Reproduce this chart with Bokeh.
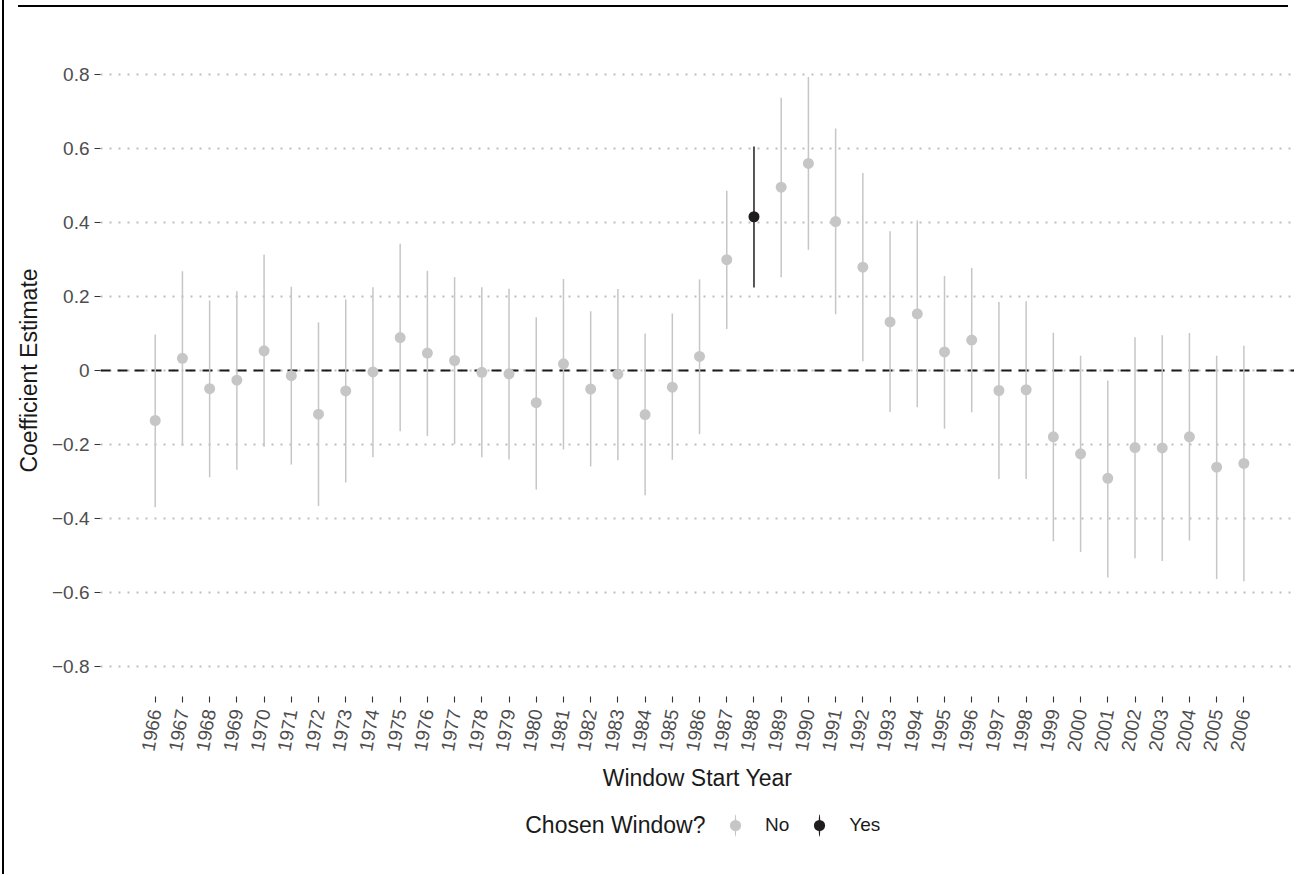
import math
from bokeh.plotting import figure
from bokeh.layouts import column
from bokeh.models import (Range1d, FixedTicker, CustomJSTickFormatter, Span, Legend,
                          LegendItem, Label, ColumnDataSource, InlineStyleSheet)
from bokeh.embed import file_html
from bokeh.resources import INLINE

# ---------------- data ----------------
years = [1966, 1967, 1968, 1969, 1970, 1971, 1972, 1973, 1974, 1975,
         1976, 1977, 1978, 1979, 1980, 1981, 1982, 1983, 1984, 1985,
         1986, 1987, 1988, 1989, 1990, 1991, 1992, 1993, 1994, 1995,
         1996, 1997, 1998, 1999, 2000, 2001, 2002, 2003, 2004, 2005, 2006]
estimate = [-0.135, 0.033, -0.049, -0.026, 0.053, -0.014, -0.118, -0.055, -0.004, 0.089,
            0.047, 0.027, -0.005, -0.009, -0.087, 0.018, -0.050, -0.010, -0.119, -0.045,
            0.038, 0.299, 0.415, 0.495, 0.559, 0.402, 0.279, 0.131, 0.153, 0.050,
            0.082, -0.054, -0.052, -0.179, -0.225, -0.291, -0.208, -0.209, -0.179, -0.261, -0.251]
lower = [-0.369, -0.203, -0.288, -0.268, -0.206, -0.254, -0.366, -0.302, -0.234, -0.164,
         -0.177, -0.199, -0.234, -0.240, -0.321, -0.213, -0.259, -0.242, -0.337, -0.241,
         -0.172, 0.112, 0.224, 0.252, 0.326, 0.152, 0.025, -0.112, -0.099, -0.157,
         -0.113, -0.293, -0.293, -0.461, -0.490, -0.559, -0.507, -0.514, -0.459, -0.563, -0.569]
upper = [0.097, 0.268, 0.189, 0.214, 0.313, 0.226, 0.130, 0.192, 0.225, 0.342,
         0.269, 0.252, 0.225, 0.221, 0.144, 0.247, 0.160, 0.220, 0.100, 0.154,
         0.246, 0.485, 0.605, 0.736, 0.792, 0.653, 0.533, 0.376, 0.405, 0.255,
         0.277, 0.185, 0.187, 0.102, 0.040, -0.027, 0.090, 0.095, 0.101, 0.040, 0.067]
chosen = ["No", "No", "No", "No", "No", "No", "No", "No", "No", "No",
          "No", "No", "No", "No", "No", "No", "No", "No", "No", "No",
          "No", "No", "Yes", "No", "No", "No", "No", "No", "No", "No",
          "No", "No", "No", "No", "No", "No", "No", "No", "No", "No", "No"]
year_labels = [str(y) for y in years]
y_ticks = [-0.8, -0.6, -0.4, -0.2, 0, 0.2, 0.4, 0.6, 0.8]
categories = ["No", "Yes"]
legend_title = "Chosen Window?"
x_title = "Window Start Year"
y_title = "Coefficient Estimate"

# ---------------- styling ----------------
FONT = "Liberation Sans"
GREY = "#C6C6C6"
DARK = "#211D1E"
colors = {"No": GREY, "Yes": DARK}

W = 1294
H_MAIN = 800
H_LEG = 74

sources = {}
for cat in categories:
    idx = [i for i, c in enumerate(chosen) if c == cat]
    sources[cat] = ColumnDataSource(dict(
        year=[years[i] for i in idx],
        est=[estimate[i] for i in idx],
        lo=[lower[i] for i in idx],
        hi=[upper[i] for i in idx],
    ))

p = figure(width=W, height=H_MAIN, output_backend="svg", toolbar_location=None,
           title=None, x_range=Range1d(1963.99, 2007.86), y_range=Range1d(-0.88, 0.88),
           min_border_left=100, min_border_right=0, min_border_top=44,
           min_border_bottom=H_MAIN - 696)
p.outline_line_color = None
p.background_fill_color = "white"
p.border_fill_color = "white"

p.xgrid.visible = False
p.ygrid.grid_line_color = "#BDBDBD"
p.ygrid.grid_line_width = 1.8
p.ygrid.grid_line_dash = "2 7"

p.add_layout(Span(location=0, dimension="width", line_color="#1A1A1A", line_width=2,
                  line_dash="10 7", level="underlay"))

for cat in categories:
    p.segment(x0="year", y0="lo", x1="year", y1="hi", line_color=colors[cat],
              line_width=1.5, source=sources[cat])
    p.scatter(x="year", y="est", size=11, fill_color=colors[cat], line_color=None,
              source=sources[cat])

for ax in (p.xaxis[0], p.yaxis[0]):
    ax.axis_line_color = None
    ax.major_tick_in = 0
    ax.major_tick_out = 6
    ax.minor_tick_in = 0
    ax.minor_tick_out = 0
    ax.major_tick_line_color = "#333333"
    ax.major_tick_line_width = 1.1
    ax.major_label_text_font = FONT
    ax.major_label_text_font_size = "19px"
    ax.major_label_text_color = "#4D4D4D"
    ax.axis_label_text_font = FONT
    ax.axis_label_text_font_size = "23px"
    ax.axis_label_text_font_style = "normal"
    ax.axis_label_text_color = "#1A1A1A"

p.yaxis.ticker = FixedTicker(ticks=y_ticks)
p.yaxis.formatter = CustomJSTickFormatter(code="""
    if (Math.abs(tick) < 1e-9) { return "0"; }
    return (tick < 0 ? "\u2212" : "") + Math.abs(tick).toFixed(1);
""")
p.yaxis.major_label_standoff = 5
p.yaxis.axis_label = y_title
p.yaxis.axis_label_standoff = 7

p.xaxis.ticker = FixedTicker(ticks=years)
p.xaxis.major_label_overrides = {y: lab for y, lab in zip(years, year_labels)}
p.xaxis.major_label_orientation = math.radians(80)
p.xaxis.major_label_standoff = 7
p.xaxis.axis_label = x_title
p.xaxis.axis_label_standoff = 9

# ---------------- legend strip ----------------
lg = figure(width=W, height=H_LEG, output_backend="svg", toolbar_location=None,
            title=None, x_range=Range1d(0, 1), y_range=Range1d(0, 1),
            x_axis_type=None, y_axis_type=None,
            min_border_left=0, min_border_right=0, min_border_top=0, min_border_bottom=0)
lg.outline_line_color = None
lg.grid.visible = False
lg.background_fill_color = "white"
lg.border_fill_color = "white"

items = []
for cat in categories:
    # glyphs of the same data (outside this strip's ranges); used only for the legend keys
    ell = lg.ellipse(x="year", y="est", width=1.6, height=22, width_units="screen",
                     height_units="screen", fill_color=colors[cat], line_color=None,
                     source=sources[cat])
    sc = lg.scatter(x="year", y="est", size=11, fill_color=colors[cat], line_color=None,
                    source=sources[cat])
    items.append(LegendItem(label=cat, renderers=[ell, sc]))

legend = Legend(items=items, orientation="horizontal", location=(621, H_LEG - 7.5 - 34),
                glyph_width=28, glyph_height=34, label_standoff=16, spacing=16,
                padding=0, margin=0, border_line_color=None, background_fill_alpha=0,
                label_text_font=FONT, label_text_font_size="19px",
                label_text_color="#1A1A1A")
lg.add_layout(legend)
lg.add_layout(Label(x=705, y=24.5, x_units="canvas", y_units="canvas", text=legend_title,
                    text_align="right", text_baseline="middle", text_font=FONT,
                    text_font_size="23px", text_color="#1A1A1A"))

# frame lines of the original page
p.stylesheets = [InlineStyleSheet(css="""
:host { position: relative; }
:host::before { content: ""; position: absolute; left: 2px; top: 0px; width: 2px;
                height: 100%; background: #000; z-index: 100; pointer-events: none; }
:host::after { content: ""; position: absolute; left: 18px; top: 4.6px; width: 1270px;
               height: 2.4px; background: #000; z-index: 100; pointer-events: none; }
""")]
lg.stylesheets = [InlineStyleSheet(css="""
:host { position: relative; }
:host::before { content: ""; position: absolute; left: 2px; top: 0px; width: 2px;
                height: 100%; background: #000; z-index: 100; pointer-events: none; }
""")]

layout = column(p, lg, spacing=0)
open("out.html", "w").write(file_html(layout, INLINE))
